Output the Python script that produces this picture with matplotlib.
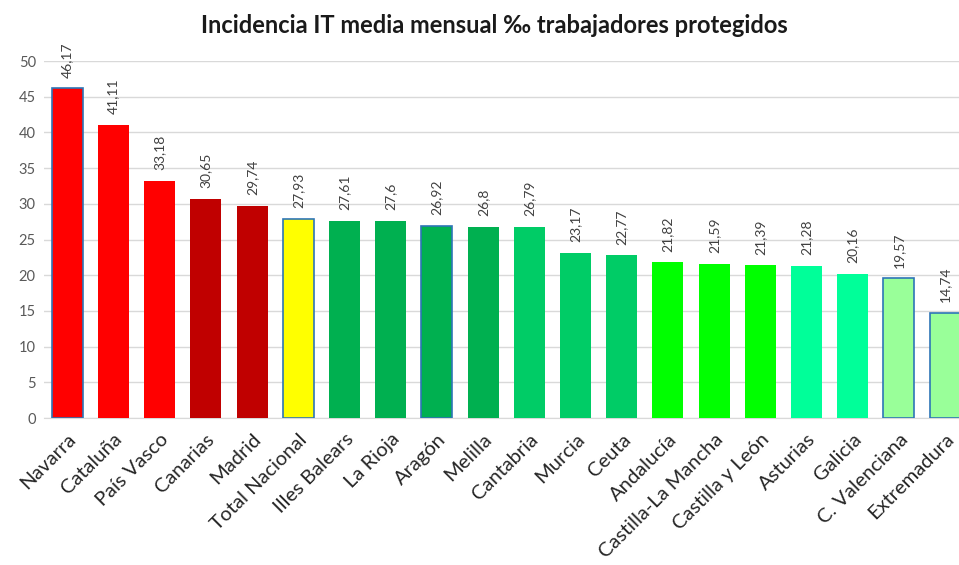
import matplotlib.pyplot as plt

regions = ["Navarra", "Cataluña", "País Vasco", "Canarias", "Madrid",
           "Total Nacional", "Illes Balears", "La Rioja", "Aragón", "Melilla",
           "Cantabria", "Murcia", "Ceuta", "Andalucía", "Castilla-La Mancha",
           "Castilla y León", "Asturias", "Galicia", "C. Valenciana", "Extremadura"]
values = [46.17, 41.11, 33.18, 30.65, 29.74, 27.93, 27.61, 27.6, 26.92, 26.8,
          26.79, 23.17, 22.77, 21.82, 21.59, 21.39, 21.28, 20.16, 19.57, 14.74]
value_labels = ["46,17", "41,11", "33,18", "30,65", "29,74", "27,93", "27,61", "27,6",
                "26,92", "26,8", "26,79", "23,17", "22,77", "21,82", "21,59", "21,39",
                "21,28", "20,16", "19,57", "14,74"]
colors = ["#FF0000", "#FF0000", "#FF0000", "#C00000", "#C00000",
          "#FFFF00", "#00B050", "#00B050", "#00B050", "#00B050",
          "#00CC66", "#00CC66", "#00CC66", "#00FF00", "#00FF00",
          "#00FF00", "#00FF99", "#00FF99", "#99FF99", "#99FF99"]
# bars with a blue outline in the original
outlined = ["Navarra", "Total Nacional", "Aragón", "C. Valenciana", "Extremadura"]

plt.rcParams['font.family'] = ['Lato', 'DejaVu Sans']

fig = plt.figure(figsize=(9.59, 5.65), dpi=100)
ax = fig.add_axes([0.046, 0.26, 0.954, 0.632])

x = range(len(regions))
edges = ["#2E75B6" if r in outlined else "none" for r in regions]
ax.bar(x, values, width=0.67, color=colors, edgecolor=edges, linewidth=1.2, zorder=3)

for i, v in enumerate(values):
    ax.text(i, v + 1.5, value_labels[i], rotation=90, ha='center', va='bottom',
            fontsize=10, color="#404040")

ax.set_xlim(-0.5, 19.3)
ax.set_ylim(0, 50)
ax.set_yticks(range(0, 51, 5))
ax.grid(axis='y', color="#D9D9D9", linewidth=1, zorder=0)
for s in ["top", "right", "left"]:
    ax.spines[s].set_visible(False)
ax.spines["bottom"].set_color("#D9D9D9")
ax.tick_params(axis='both', length=0)
ax.tick_params(axis='y', labelsize=10.5, labelcolor="#595959", pad=6)
ax.tick_params(axis='x', pad=9)
ax.set_xticks(list(x))
ax.set_xticklabels(regions, rotation=45, ha='right', va='top',
                   rotation_mode='anchor', fontsize=14.5, color="#262626")

fig.suptitle("Incidencia IT media mensual ‰ trabajadores protegidos",
             x=0.515, y=0.975, fontsize=17, fontweight='bold', color="#1a1a1a")

fig.savefig("out.png", dpi=100)
